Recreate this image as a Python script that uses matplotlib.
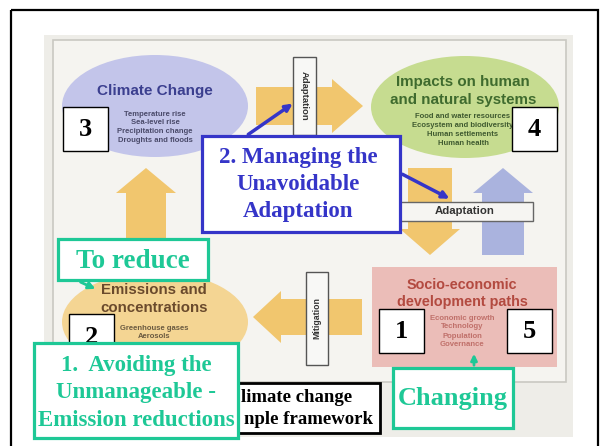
import matplotlib
matplotlib.use("Agg")
import matplotlib.pyplot as plt
from matplotlib import patches

# ---- text content ----
climate_title = "Climate Change"
climate_items = ["Temperature rise", "Sea-level rise", "Precipitation change", "Droughts and floods"]
impacts_title = ["Impacts on human", "and natural systems"]
impacts_items = ["Food and water resources", "Ecosystem and biodiversity", "Human settlements", "Human health"]
emis_title = ["Emissions and", "concentrations"]
emis_items = ["Greenhouse gases", "Aerosols"]
socio_title = ["Socio-economic", "development paths"]
socio_items = ["Economic growth", "Technology", "Population", "Governance"]
number_labels = ["1", "2", "3", "4", "5"]
adapt_label = "Adaptation"
mitig_label = "Mitigation"
callout_avoid = ["1.  Avoiding the", "Unmanageable -", "Emission reductions"]
callout_manage = ["2. Managing the", "Unavoidable", "Adaptation"]
callout_reduce = "To reduce"
callout_change = "Changing"
caption_visible = ["limate change", "nple framework"]

TEAL = "#1ec896"
BLUE = "#3535c8"
ORANGE = "#f1c66e"
LBLUE = "#aab3de"
SANS = "Liberation Sans"
SERIF = "Liberation Serif"

fig = plt.figure(figsize=(6, 4.46), dpi=100)
ax = fig.add_axes([0, 0, 1, 1])
ax.set_xlim(0, 600)
ax.set_ylim(446, 0)
ax.axis("off")

# outer frame
ax.add_patch(patches.Rectangle((11, 10), 587, 445, fill=False, ec="black", lw=1.6, zorder=1))

# picture background
ax.add_patch(patches.Rectangle((44, 35), 529, 402, fc="#eeede8", ec="none", zorder=1))
ax.add_patch(patches.Rectangle((53, 40), 513, 342, fc="#f5f4f0", ec="#c9c8c2", lw=1.2, zorder=1))

# ellipses / box
ax.add_patch(patches.Ellipse((155, 106), 186, 102, fc="#c3c5ea", ec="none", zorder=2))
ax.add_patch(patches.Ellipse((465, 107), 188, 102, fc="#c6dc90", ec="none", zorder=2))
ax.add_patch(patches.Ellipse((155, 322), 186, 100, fc="#f4d593", ec="none", zorder=2))
ax.add_patch(patches.Rectangle((372, 267), 185, 100, fc="#ebbdb8", ec="none", zorder=2))


def arrow(x0, y0, x1, y1, w, hw, hl, color, z=3):
    ax.add_patch(patches.FancyArrow(x0, y0, x1 - x0, y1 - y0, width=w, head_width=hw,
                                    head_length=hl, length_includes_head=True,
                                    fc=color, ec="none", zorder=z))


arrow(256, 106, 363, 106, 38, 54, 31, ORANGE)      # climate -> impacts
arrow(430, 168, 430, 255, 44, 60, 26, ORANGE)      # impacts -> socio
arrow(503, 255, 503, 168, 42, 60, 25, LBLUE)       # socio -> impacts
arrow(362, 317, 253, 317, 36, 52, 28, ORANGE)      # socio -> emissions
arrow(146, 255, 146, 168, 40, 60, 25, ORANGE)      # emissions -> climate

# labels on arrows
ax.add_patch(patches.Rectangle((293, 57), 23, 78, fc="#f8f8f6", ec="#555555", lw=1.0, zorder=4))
ax.text(304.5, 96, adapt_label, rotation=-90, ha="center", va="center", fontsize=6.8,
        fontweight="bold", family=SANS, color="#333333", zorder=5)
ax.add_patch(patches.Rectangle((306, 272), 22, 93, fc="#f8f8f6", ec="#555555", lw=1.0, zorder=4))
ax.text(317, 318, mitig_label, rotation=90, ha="center", va="center", fontsize=6.3,
        fontweight="bold", family=SANS, color="#333333", zorder=5)
ax.add_patch(patches.Rectangle((395, 202), 138, 19, fc="#f6f5f2", ec="#666666", lw=1.0, zorder=4))
ax.text(465, 211.5, adapt_label, ha="center", va="center", fontsize=8.2,
        fontweight="bold", family=SANS, color="#333333", zorder=5)

# titles and items
ax.text(155, 91, climate_title, ha="center", va="center", fontsize=11, fontweight="bold",
        family=SANS, color="#3b3f8f", zorder=5)
for i, t in enumerate(climate_items):
    ax.text(155, 114 + 8.7 * i, t, ha="center", va="center", fontsize=5.5, fontweight="bold",
            family=SANS, color="#4a4a6a", zorder=5)
for i, t in enumerate(impacts_title):
    ax.text(463, 82 + 18 * i, t, ha="center", va="center", fontsize=10.9, fontweight="bold",
            family=SANS, color="#3f6b2e", zorder=5)
for i, t in enumerate(impacts_items):
    ax.text(463, 117 + 8.7 * i, t, ha="center", va="center", fontsize=5.5, fontweight="bold",
            family=SANS, color="#3f5a30", zorder=5)
for i, t in enumerate(emis_title):
    ax.text(154, 290 + 18 * i, t, ha="center", va="center", fontsize=10.8, fontweight="bold",
            family=SANS, color="#6a4a2c", zorder=5)
for i, t in enumerate(emis_items):
    ax.text(154, 328 + 8.7 * i, t, ha="center", va="center", fontsize=5.5, fontweight="bold",
            family=SANS, color="#6a5a40", zorder=5)
for i, t in enumerate(socio_title):
    ax.text(462, 285 + 17 * i, t, ha="center", va="center", fontsize=10.4, fontweight="bold",
            family=SANS, color="#b34a40", zorder=5)
for i, t in enumerate(socio_items):
    ax.text(462, 318 + 9 * i, t, ha="center", va="center", fontsize=5.6, fontweight="bold",
            family=SANS, color="#c0706a", zorder=5)

# numbered boxes
num_pos = {"1": (379, 309), "2": (69, 314), "3": (63, 107), "4": (512, 107), "5": (507, 309)}
for lab in number_labels:
    x, y = num_pos[lab]
    ax.add_patch(patches.Rectangle((x, y), 45, 44, fc="white", ec="black", lw=1.0, zorder=6))
    ax.text(x + 22.5, y + 23, lab, ha="center", va="center", fontsize=19, fontweight="bold",
            family=SERIF, color="black", zorder=7)

# caption box (partly hidden behind the teal callout)
ax.add_patch(patches.Rectangle((200, 383), 180, 50, fc="white", ec="black", lw=2.0, zorder=6))
ax.text(352, 397, caption_visible[0], ha="right", va="center", fontsize=13.5, fontweight="bold",
        family=SERIF, color="black", zorder=7)
ax.text(373, 420, caption_visible[1], ha="right", va="center", fontsize=13.5, fontweight="bold",
        family=SERIF, color="black", zorder=7)

# teal callouts
ax.add_patch(patches.Rectangle((58, 239), 150, 41, fc="white", ec=TEAL, lw=2.3, zorder=8))
ax.text(133, 261, callout_reduce, ha="center", va="center", fontsize=19.5, fontweight="bold",
        family=SERIF, color=TEAL, zorder=9)
ax.annotate("", xy=(98, 290), xytext=(78, 281),
            arrowprops=dict(arrowstyle="-|>", color=TEAL, lw=2, mutation_scale=10), zorder=9)

ax.add_patch(patches.Rectangle((34, 343), 204, 95, fc="white", ec=TEAL, lw=2.3, zorder=8))
for i, t in enumerate(callout_avoid):
    ax.text(136, 365 + 27.5 * i, t, ha="center", va="center", fontsize=16.5, fontweight="bold",
            family=SERIF, color=TEAL, zorder=9)

ax.add_patch(patches.Rectangle((393, 368), 120, 60, fc="white", ec=TEAL, lw=2.3, zorder=8))
ax.text(453, 399, callout_change, ha="center", va="center", fontsize=19, fontweight="bold",
        family=SERIF, color=TEAL, zorder=9)
ax.annotate("", xy=(474, 351), xytext=(474, 368),
            arrowprops=dict(arrowstyle="-|>", color=TEAL, lw=2, mutation_scale=9), zorder=9)

# blue callout
ax.add_patch(patches.Rectangle((202, 136), 198, 96, fc="white", ec=BLUE, lw=2.3, zorder=8))
for i, t in enumerate(callout_manage):
    ax.text(298, 158 + 27 * i, t, ha="center", va="center", fontsize=16.5, fontweight="bold",
            family=SERIF, color=BLUE, zorder=9)
ax.annotate("", xy=(295, 102), xytext=(246, 136),
            arrowprops=dict(arrowstyle="-|>", color=BLUE, lw=2.5, mutation_scale=10), zorder=9)
ax.annotate("", xy=(452, 200), xytext=(400, 173),
            arrowprops=dict(arrowstyle="-|>", color=BLUE, lw=2.5, mutation_scale=10), zorder=9)

fig.savefig("out.png", dpi=100, facecolor="white")
